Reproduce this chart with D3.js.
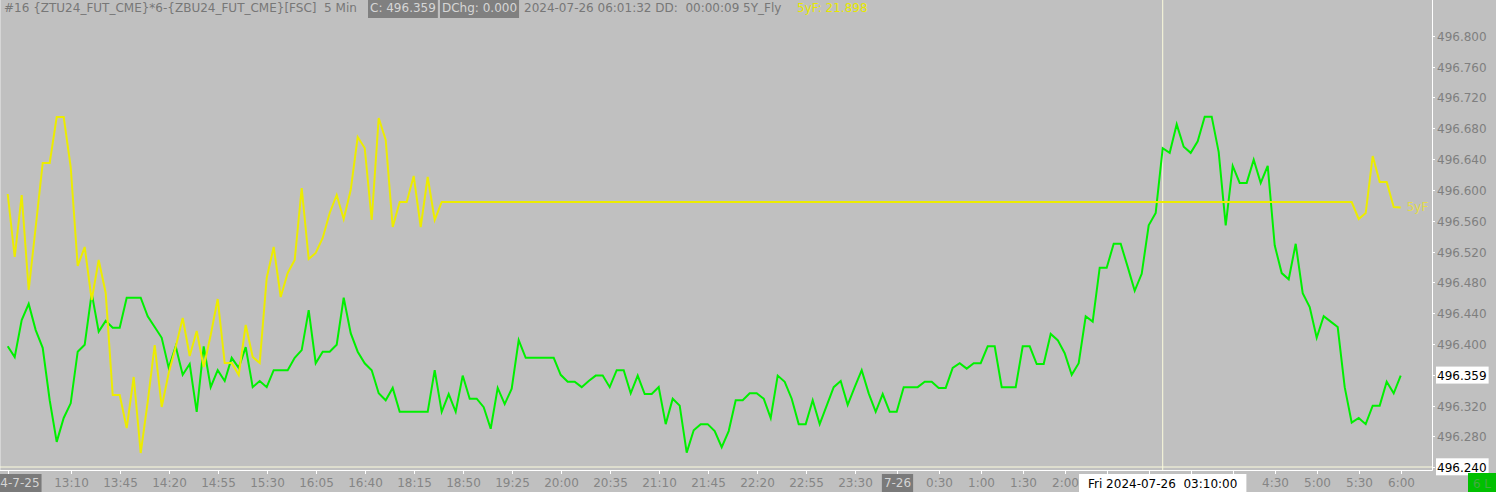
<!DOCTYPE html>
<html>
<head>
<meta charset="utf-8">
<script src="https://cdn.jsdelivr.net/npm/d3@7"></script>
<style>
	html, body { margin: 0; padding: 0; background: #c0c0c0; }
	svg { display: block; font-family: "DejaVu Sans", sans-serif; font-size: 12px; }
	text { white-space: pre; }
</style>
</head>
<body>
<div id="chart-container"></div>
<script>
/* SET UP */

const w = 1496;
const h = 492;
const axisX = 1432; // right price axis line
const axisY = 470; // bottom time axis line

/* DATA */

// two trading sessions of 5 min bars
const sessions = [
	["2024-07-25T12:25", "2024-07-25T16:55"],
	["2024-07-25T18:00", "2024-07-26T06:00"],
];

// {ZTU24}*6-{ZBU24} close, one value per bar
const green = [
	496.397, 496.383, 496.431, 496.452, 496.418, 496.395, 496.327, 496.273, 496.304, 496.323,
	496.390, 496.399, 496.466, 496.416, 496.430, 496.421, 496.421, 496.460, 496.460, 496.460,
	496.436, 496.422, 496.408, 496.369, 496.397, 496.360, 496.374, 496.312, 496.397, 496.344,
	496.366, 496.352, 496.382, 496.369, 496.396, 496.344, 496.352, 496.344, 496.366, 496.366,
	496.366, 496.382, 496.392, 496.444, 496.375, 496.390, 496.390, 496.399, 496.460, 496.414,
	496.390, 496.375, 496.366, 496.336, 496.327, 496.343, 496.312, 496.312, 496.312, 496.312,
	496.312, 496.366, 496.312, 496.335, 496.312, 496.359, 496.329, 496.329, 496.318, 496.290,
	496.343, 496.322, 496.342, 496.405, 496.382, 496.382, 496.382, 496.382, 496.382, 496.360,
	496.351, 496.351, 496.344, 496.352, 496.359, 496.359, 496.344, 496.366, 496.366, 496.336,
	496.359, 496.335, 496.335, 496.344, 496.296, 496.329, 496.320, 496.259, 496.288, 496.296,
	496.296, 496.287, 496.266, 496.287, 496.327, 496.327, 496.336, 496.336, 496.329, 496.304,
	496.359, 496.351, 496.329, 496.296, 496.296, 496.327, 496.296, 496.320, 496.344, 496.352,
	496.321, 496.344, 496.366, 496.336, 496.312, 496.335, 496.312, 496.312, 496.344, 496.344,
	496.344, 496.351, 496.351, 496.343, 496.343, 496.369, 496.375, 496.368, 496.375, 496.375,
	496.397, 496.397, 496.344, 496.344, 496.344, 496.397, 496.397, 496.374, 496.374, 496.413,
	496.405, 496.388, 496.360, 496.375, 496.436, 496.429, 496.499, 496.499, 496.530, 496.530,
	496.500, 496.469, 496.491, 496.554, 496.570, 496.654, 496.648, 496.685, 496.656, 496.648,
	496.663, 496.695, 496.695, 496.649, 496.554, 496.631, 496.609, 496.609, 496.639, 496.609,
	496.631, 496.528, 496.492, 496.484, 496.530, 496.466, 496.448, 496.408, 496.436, 496.429,
	496.422, 496.344, 496.298, 496.304, 496.296, 496.320, 496.320, 496.351, 496.336, 496.359,
];

// 5Y_Fly study (5yF), own hidden scale
const yellow = [
	21.965, 21.650, 21.960, 21.485, 21.800, 22.120, 22.120, 22.350, 22.350, 22.100,
	21.605, 21.700, 21.435, 21.635, 21.470, 20.960, 20.960, 20.795, 21.050, 20.670,
	20.925, 21.210, 20.900, 21.070, 21.200, 21.345, 21.155, 21.280, 21.100, 21.260,
	21.440, 21.120, 21.120, 21.060, 21.310, 21.150, 21.120, 21.545, 21.700, 21.450,
	21.570, 21.635, 21.995, 21.640, 21.670, 21.745, 21.870, 21.960, 21.840, 21.985,
	22.250, 22.195, 21.835, 22.345, 22.235, 21.800, 21.925, 21.925, 22.055, 21.800,
	22.050, 21.835, 21.925, 21.925, 21.925, 21.925, 21.925, 21.925, 21.925, 21.925,
	21.925, 21.925, 21.925, 21.925, 21.925, 21.925, 21.925, 21.925, 21.925, 21.925,
	21.925, 21.925, 21.925, 21.925, 21.925, 21.925, 21.925, 21.925, 21.925, 21.925,
	21.925, 21.925, 21.925, 21.925, 21.925, 21.925, 21.925, 21.925, 21.925, 21.925,
	21.925, 21.925, 21.925, 21.925, 21.925, 21.925, 21.925, 21.925, 21.925, 21.925,
	21.925, 21.925, 21.925, 21.925, 21.925, 21.925, 21.925, 21.925, 21.925, 21.925,
	21.925, 21.925, 21.925, 21.925, 21.925, 21.925, 21.925, 21.925, 21.925, 21.925,
	21.925, 21.925, 21.925, 21.925, 21.925, 21.925, 21.925, 21.925, 21.925, 21.925,
	21.925, 21.925, 21.925, 21.925, 21.925, 21.925, 21.925, 21.925, 21.925, 21.925,
	21.925, 21.925, 21.925, 21.925, 21.925, 21.925, 21.925, 21.925, 21.925, 21.925,
	21.925, 21.925, 21.925, 21.925, 21.925, 21.925, 21.925, 21.925, 21.925, 21.925,
	21.925, 21.925, 21.925, 21.925, 21.925, 21.925, 21.925, 21.925, 21.925, 21.925,
	21.925, 21.925, 21.925, 21.925, 21.925, 21.925, 21.925, 21.925, 21.925, 21.925,
	21.925, 21.925, 21.925, 21.840, 21.870, 22.155, 22.025, 22.025, 21.900, 21.898,
];

// time axis labels (bar time -> shown text)
const tickTimes = ["12:25", "13:10", "13:45", "14:20", "14:55", "15:30", "16:05", "16:40",
	"18:15", "18:50", "19:25", "20:00", "20:35", "21:10", "21:45", "22:20", "22:55", "23:30",
	"0:00", "0:30", "1:00", "1:30", "2:00", "2:30", "3:00", "3:30", "4:00", "4:30", "5:00",
	"5:30", "6:00"];
const tickText = ["2024-7-25", "13:10", "13:45", "14:20", "14:55", "15:30", "16:05", "16:40",
	"18:15", "18:50", "19:25", "20:00", "20:35", "21:10", "21:45", "22:20", "22:55", "23:30",
	"7-26", "0:30", "1:00", "1:30", "2:00", "2:30", "3:00", "3:30", "4:00", "4:30", "5:00",
	"5:30", "6:00"];
const dateTicks = ["2024-7-25", "7-26"];

const priceDomain = [496.24, 496.8];
const priceStep = 0.04;
const flyDomain = [20.6, 22.6];

const lastPrice = 496.359;
const crossTime = "3:10";
const crossPrice = 496.24;
const crossLabel = "Fri 2024-07-26  03:10:00";
const flyLabel = "5yF";

const header = [
	{ text: "#16 {ZTU24_FUT_CME}*6-{ZBU24_FUT_CME}[FSC]  5 Min", kind: "plain" },
	{ text: "C: 496.359", kind: "box" },
	{ text: "DChg: 0.000", kind: "box" },
	{ text: "2024-07-26 06:01:32 DD:  00:00:09 5Y_Fly", kind: "plain" },
	{ text: "5yF: 21.898", kind: "fly" },
];

/* BARS */

const parse = d3.timeParse("%Y-%m-%dT%H:%M");
const fmt = d3.timeFormat("%-H:%M");
let bars = [];
sessions.forEach(([a, b]) => {
	bars = bars.concat(d3.timeMinute.every(5).range(parse(a), d3.timeMinute.offset(parse(b), 1)));
});
const barLabels = bars.map((d) => fmt(d));

/* SCALES */

const x = d3.scaleLinear().domain([0, bars.length - 1]).range([7.7, 7.7 + 7 * (bars.length - 1)]);
const y = d3.scaleLinear().domain(priceDomain).range([467.3, 35.7]);
const y2 = d3.scaleLinear().domain(flyDomain).range([467, 67]);

/* MAKING THE CHART */

const svg = d3
	.select("#chart-container")
	.append("svg")
	.attr("width", w)
	.attr("height", h);

svg.append("rect").attr("width", w).attr("height", h).attr("fill", "#c0c0c0");

// left border
svg.append("line")
	.attr("x1", 0.5).attr("x2", 0.5).attr("y1", 0).attr("y2", axisY)
	.attr("stroke", "#d6d6d6");

// crosshair
const cx = x(barLabels.indexOf(crossTime));
const cy = y(crossPrice);
svg.append("line")
	.attr("x1", cx).attr("x2", cx).attr("y1", 0).attr("y2", axisY)
	.attr("stroke", "#fbfbdc").attr("stroke-width", 1);
svg.append("line")
	.attr("x1", 0).attr("x2", axisX).attr("y1", cy - 0.3).attr("y2", cy - 0.3)
	.attr("stroke", "#fbfbdc").attr("stroke-width", 1);

// series
const priceLine = d3.line().x((d, i) => x(i)).y((d) => y(d));
const flyLine = d3.line().x((d, i) => x(i)).y((d) => y2(d));

svg.append("path")
	.datum(green)
	.attr("d", priceLine)
	.attr("fill", "none")
	.attr("stroke", "#00f000")
	.attr("stroke-width", 2);

svg.append("path")
	.datum(yellow)
	.attr("d", flyLine)
	.attr("fill", "none")
	.attr("stroke", "#ecec00")
	.attr("stroke-width", 2);

svg.append("text")
	.attr("x", x(yellow.length - 1) + 6)
	.attr("y", y2(yellow[yellow.length - 1]) + 4)
	.attr("fill", "#e4dc48")
	.text(flyLabel);

/* AXES */

// right price axis
svg.append("line")
	.attr("x1", axisX + 0.5).attr("x2", axisX + 0.5).attr("y1", 0).attr("y2", axisY + 0.5)
	.attr("stroke", "#ffffff");

const priceTicks = d3.range(priceDomain[0], priceDomain[1] + priceStep / 2, priceStep);
const yTicks = svg.append("g").selectAll("g").data(priceTicks).join("g")
	.attr("transform", (d) => `translate(0,${Math.round(y(d)) + 0.5})`);
yTicks.append("line").attr("x1", axisX).attr("x2", axisX + 3).attr("stroke", "#ffffff");
yTicks.append("text")
	.attr("x", axisX + 5)
	.attr("dy", "0.36em")
	.attr("fill", "#7f7f7f")
	.text((d) => d.toFixed(3));

// bottom time axis
svg.append("line")
	.attr("x1", 0).attr("x2", axisX + 0.5).attr("y1", axisY + 0.5).attr("y2", axisY + 0.5)
	.attr("stroke", "#ffffff");

// crosshair time label box extent, labels fully under it are hidden
const ctProbe = svg.append("text").text(crossLabel);
const ctw = ctProbe.node().getComputedTextLength();
ctProbe.remove();
const boxL = cx - ctw / 2 - 9;
const boxR = cx + ctw / 2 + 9;

const xTickData = tickTimes.map((t, k) => ({ i: barLabels.indexOf(t), text: tickText[k] }));
const xTicks = svg.append("g").selectAll("g").data(xTickData).join("g")
	.attr("transform", (d) => `translate(${Math.round(x(d.i)) + 0.5},0)`);
xTicks.append("line").attr("y1", axisY).attr("y2", axisY + 4).attr("stroke", "#ffffff");
xTicks.each(function (d) {
	const g = d3.select(this);
	const isDate = dateTicks.includes(d.text);
	const t = g.append("text")
		.attr("y", 487)
		.attr("text-anchor", "middle")
		.attr("fill", isDate ? "#d4d4d4" : "#858585")
		.text(d.text);
	const tw = t.node().getComputedTextLength();
	const px = x(d.i);
	if (px - tw / 2 > boxL && px + tw / 2 < boxR) t.remove();
	if (isDate) {
		g.insert("rect", "text")
			.attr("x", -tw / 2 - 2).attr("y", 474)
			.attr("width", tw + 4).attr("height", h - 474)
			.attr("fill", "#7a7a7a");
	}
});

/* LABEL BOXES */

function priceBox(v) {
	const g = svg.append("g").attr("transform", `translate(${axisX + 5},${y(v)})`);
	const t = g.append("text").attr("dy", "0.36em").attr("fill", "#000").text(v.toFixed(3));
	const tw = t.node().getComputedTextLength();
	g.insert("rect", "text")
		.attr("x", -1).attr("y", -9).attr("width", tw + 3).attr("height", 17)
		.attr("fill", "#ffffff");
}
priceBox(lastPrice);
priceBox(crossPrice);

// crosshair time label
const ct = svg.append("g");
ct.append("rect")
	.attr("x", boxL).attr("y", 474)
	.attr("width", boxR - boxL).attr("height", h - 474)
	.attr("fill", "#ffffff");
ct.append("text")
	.attr("x", cx).attr("y", 488).attr("text-anchor", "middle").attr("fill", "#000")
	.text(crossLabel);

// status box bottom right
svg.append("rect")
	.attr("x", 1468).attr("y", 473).attr("width", w - 1468).attr("height", h - 473)
	.attr("fill", "#00c000");
svg.append("text")
	.attr("x", 1482).attr("y", 488).attr("text-anchor", "middle")
	.attr("fill", "#44aa44").text("6 L");

/* HEADER */

const headerX = [4, 368, 440, 524, 797];
header.forEach((d, k) => {
	const hx = headerX[k];
	const color = d.kind === "box" ? "#d6d6d6" : d.kind === "fly" ? "#e8e800" : "#777777";
	const t = svg.append("text")
		.attr("x", d.kind === "box" ? hx + 2 : hx)
		.attr("y", 12)
		.attr("fill", color)
		.text(d.text);
	if (d.kind === "box") {
		const tw = t.node().getComputedTextLength();
		svg.insert("rect", "text")
			.attr("x", hx).attr("y", 0).attr("width", tw + 4).attr("height", 18)
			.attr("fill", "#808080");
	}
});
</script>
</body>
</html>
